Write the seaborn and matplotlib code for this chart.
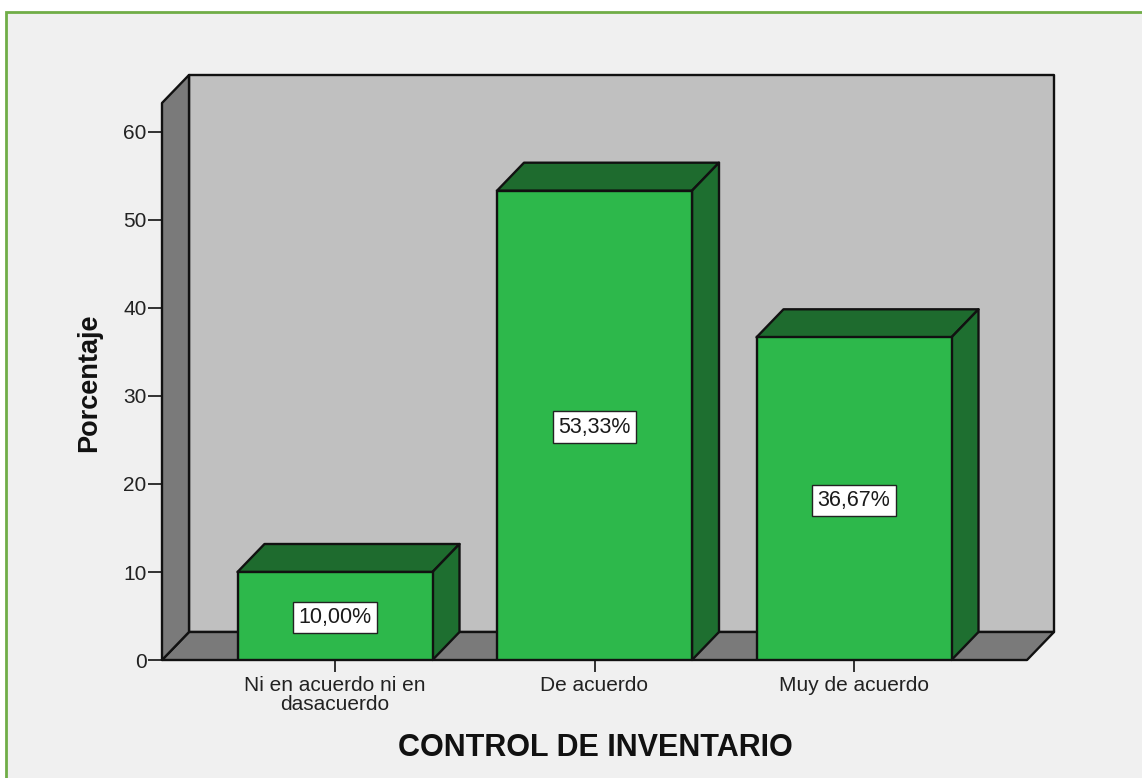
import matplotlib
matplotlib.use("Agg")
import matplotlib.pyplot as plt
from matplotlib.patches import Polygon, Rectangle
import pandas as pd
import seaborn as sns

categories = ["Ni en acuerdo ni en\ndasacuerdo", "De acuerdo", "Muy de acuerdo"]
porcentaje = [10.00, 53.33, 36.67]
etiquetas = ["10,00%", "53,33%", "36,67%"]
y_ticks = [0, 10, 20, 30, 40, 50, 60]

W, H = 1142, 778
PX_X = 259.5   # pixels per category
PX_Y = 8.8     # pixels per percent
DX = 27 / PX_X  # depth of the fake 3d
DY = 28 / PX_Y
BAR_W = 195 / PX_X
LW = 1.7

sns.set_theme(style="white")
plt.rcParams["font.family"] = ["Liberation Sans", "DejaVu Sans"]

df = pd.DataFrame({"cat": categories, "pct": porcentaje})

fig = plt.figure(figsize=(W / 100, H / 100), dpi=100, facecolor="white")
fig.add_artist(Rectangle((6 / W, -0.05), 1.1, 1 - 12 / H + 0.05, transform=fig.transFigure,
                         facecolor="#f0f0f0", edgecolor="#70ad47", linewidth=2, zorder=-1))

ax = fig.add_axes([162 / W, (H - 660) / H, (1054 - 162) / W, (660 - 75) / H])
ax.patch.set_alpha(0)

sns.barplot(data=df, x="cat", y="pct", color="#2db84b", saturation=1, width=BAR_W,
            edgecolor="#111111", linewidth=LW, zorder=5, ax=ax)

x0 = -173 / PX_X
x1 = (1054 - 335) / PX_X
y1 = 585 / PX_Y
ax.set_xlim(x0, x1)
ax.set_ylim(0, y1)

edge = dict(edgecolor="#111111", linewidth=LW, joinstyle="round", clip_on=False)

# back wall, floor and left wall
ax.add_patch(Polygon([(x0 + DX, DY), (x1, DY), (x1, y1), (x0 + DX, y1)], facecolor="#c0c0c0", zorder=1, **edge))
ax.add_patch(Polygon([(x0, 0), (x1 - DX, 0), (x1, DY), (x0 + DX, DY)], facecolor="#7a7a7a", zorder=2, **edge))
ax.add_patch(Polygon([(x0, 0), (x0 + DX, DY), (x0 + DX, y1), (x0, y1 - DY)], facecolor="#7a7a7a", zorder=2, **edge))

# top and side of each bar
for i, v in enumerate(porcentaje):
    l = i - BAR_W / 2
    r = i + BAR_W / 2
    ax.add_patch(Polygon([(l, v), (r, v), (r + DX, v + DY), (l + DX, v + DY)], facecolor="#1e6b2e", zorder=4, **edge))
    ax.add_patch(Polygon([(r, 0), (r + DX, DY), (r + DX, v + DY), (r, v)], facecolor="#1e6f30", zorder=4, **edge))
    ax.text(i, v / 2 - 0.2, etiquetas[i], ha="center", va="center", fontsize=15.5, color="#1a1a1a", zorder=6,
            bbox=dict(boxstyle="square,pad=0.24", facecolor="white", edgecolor="#222222", linewidth=1))

sns.despine(ax=ax, left=True, bottom=True, top=True, right=True)
ax.set_yticks(y_ticks)
ax.set_xticks(range(len(categories)))
ax.set_xticklabels(categories, fontsize=15, color="#222222", linespacing=1.0)
ax.tick_params(axis="y", left=True, length=10, width=1.3, color="#222222", labelsize=15, labelcolor="#222222", pad=1)
ax.tick_params(axis="x", bottom=True, length=8.6, width=1.3, color="#222222", pad=3)
ax.set_xlabel("")
ax.set_ylabel("")

fig.text(89 / W, 1 - 383 / H, "Porcentaje", rotation=90, ha="center", va="center",
         fontsize=19.5, fontweight="bold", color="#111111")
fig.text(595 / W, 1 - 748 / H, "CONTROL DE INVENTARIO", ha="center", va="center",
         fontsize=22, fontweight="bold", color="#111111")

fig.savefig("out.png", dpi=100, facecolor=fig.get_facecolor())
